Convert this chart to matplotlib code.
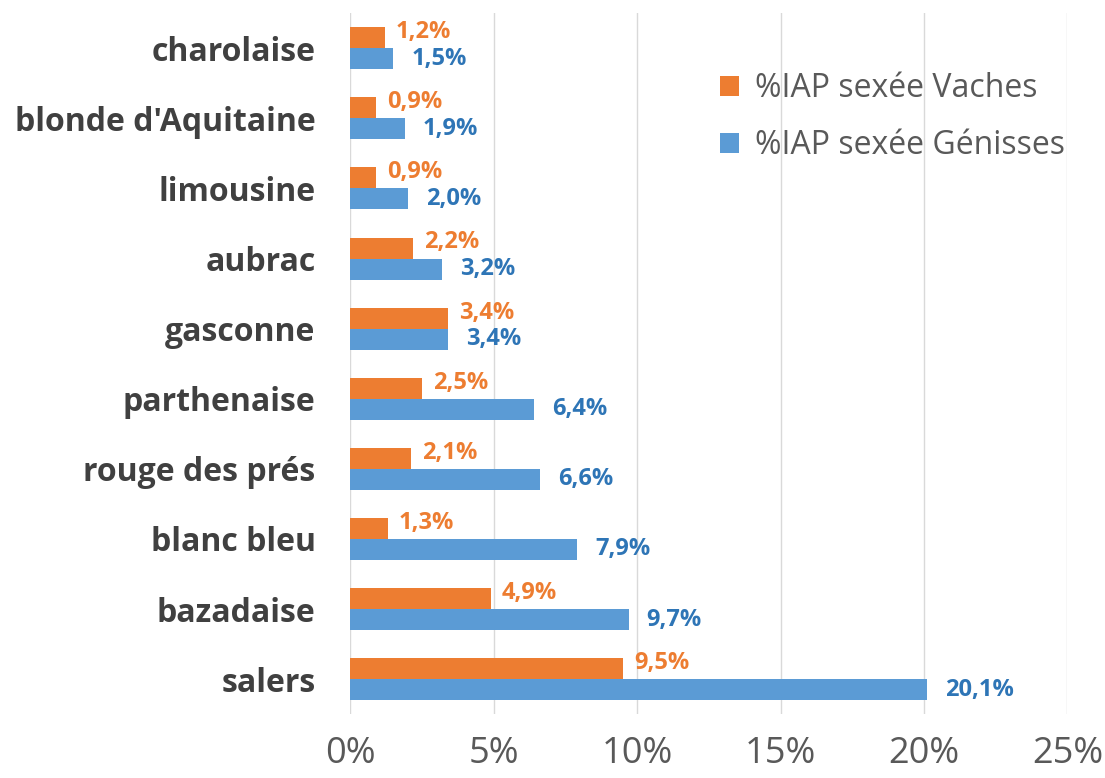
import matplotlib.pyplot as plt
import numpy as np

plt.rcParams['font.family'] = ['Open Sans', 'DejaVu Sans']

# donnees (de haut en bas)
races = ['charolaise', "blonde d'Aquitaine", 'limousine', 'aubrac', 'gasconne',
         'parthenaise', 'rouge des prés', 'blanc bleu', 'bazadaise', 'salers']
vaches = [1.2, 0.9, 0.9, 2.2, 3.4, 2.5, 2.1, 1.3, 4.9, 9.5]
genisses = [1.5, 1.9, 2.0, 3.2, 3.4, 6.4, 6.6, 7.9, 9.7, 20.1]
ticks_x = [0, 5, 10, 15, 20, 25]

orange = '#ED7D31'
bleu = '#5B9BD5'
bleu_txt = '#2E75B6'
gris = '#595959'

fig = plt.figure(figsize=(11.05, 7.78), dpi=100)
ax = fig.add_axes([0.317, 0.082, 0.649, 0.901])

y = np.arange(len(races))
h = 0.3
ax.barh(y - h / 2, vaches, height=h, color=orange, label='%IAP sexée Vaches', zorder=3)
ax.barh(y + h / 2, genisses, height=h, color=bleu, label='%IAP sexée Génisses', zorder=3)

# etiquettes de valeurs
for i in range(len(races)):
    ax.annotate(f'{vaches[i]:.1f}%'.replace('.', ','), (vaches[i], y[i] - h / 2),
                xytext=(8, 4), textcoords='offset points', va='center', ha='left',
                color=orange, fontsize=17, fontweight='bold')
    ax.annotate(f'{genisses[i]:.1f}%'.replace('.', ','), (genisses[i], y[i] + h / 2),
                xytext=(13, 0), textcoords='offset points', va='center', ha='left',
                color=bleu_txt, fontsize=17, fontweight='bold')

ax.set_ylim(len(races) - 0.5, -0.5)
ax.set_xlim(0, 25)
ax.set_yticks(y)
ax.set_yticklabels(races, fontsize=23, fontweight='bold', color='#404040')
ax.set_xticks(ticks_x)
ax.set_xticklabels([f'{t}%' for t in ticks_x], fontsize=26, color=gris)
ax.tick_params(axis='both', length=0)
ax.tick_params(axis='x', pad=16)
ax.tick_params(axis='y', pad=25)

ax.grid(axis='x', color='#D9D9D9', linewidth=1, zorder=0)
for s in ax.spines.values():
    s.set_visible(False)

leg = ax.legend(loc='upper left', bbox_to_anchor=(0.475, 0.957), frameon=False,
                fontsize=23, labelcolor=gris, handlelength=0.6, handleheight=0.6,
                handletextpad=0.5, labelspacing=0.75)

fig.savefig('out.png', dpi=100)
